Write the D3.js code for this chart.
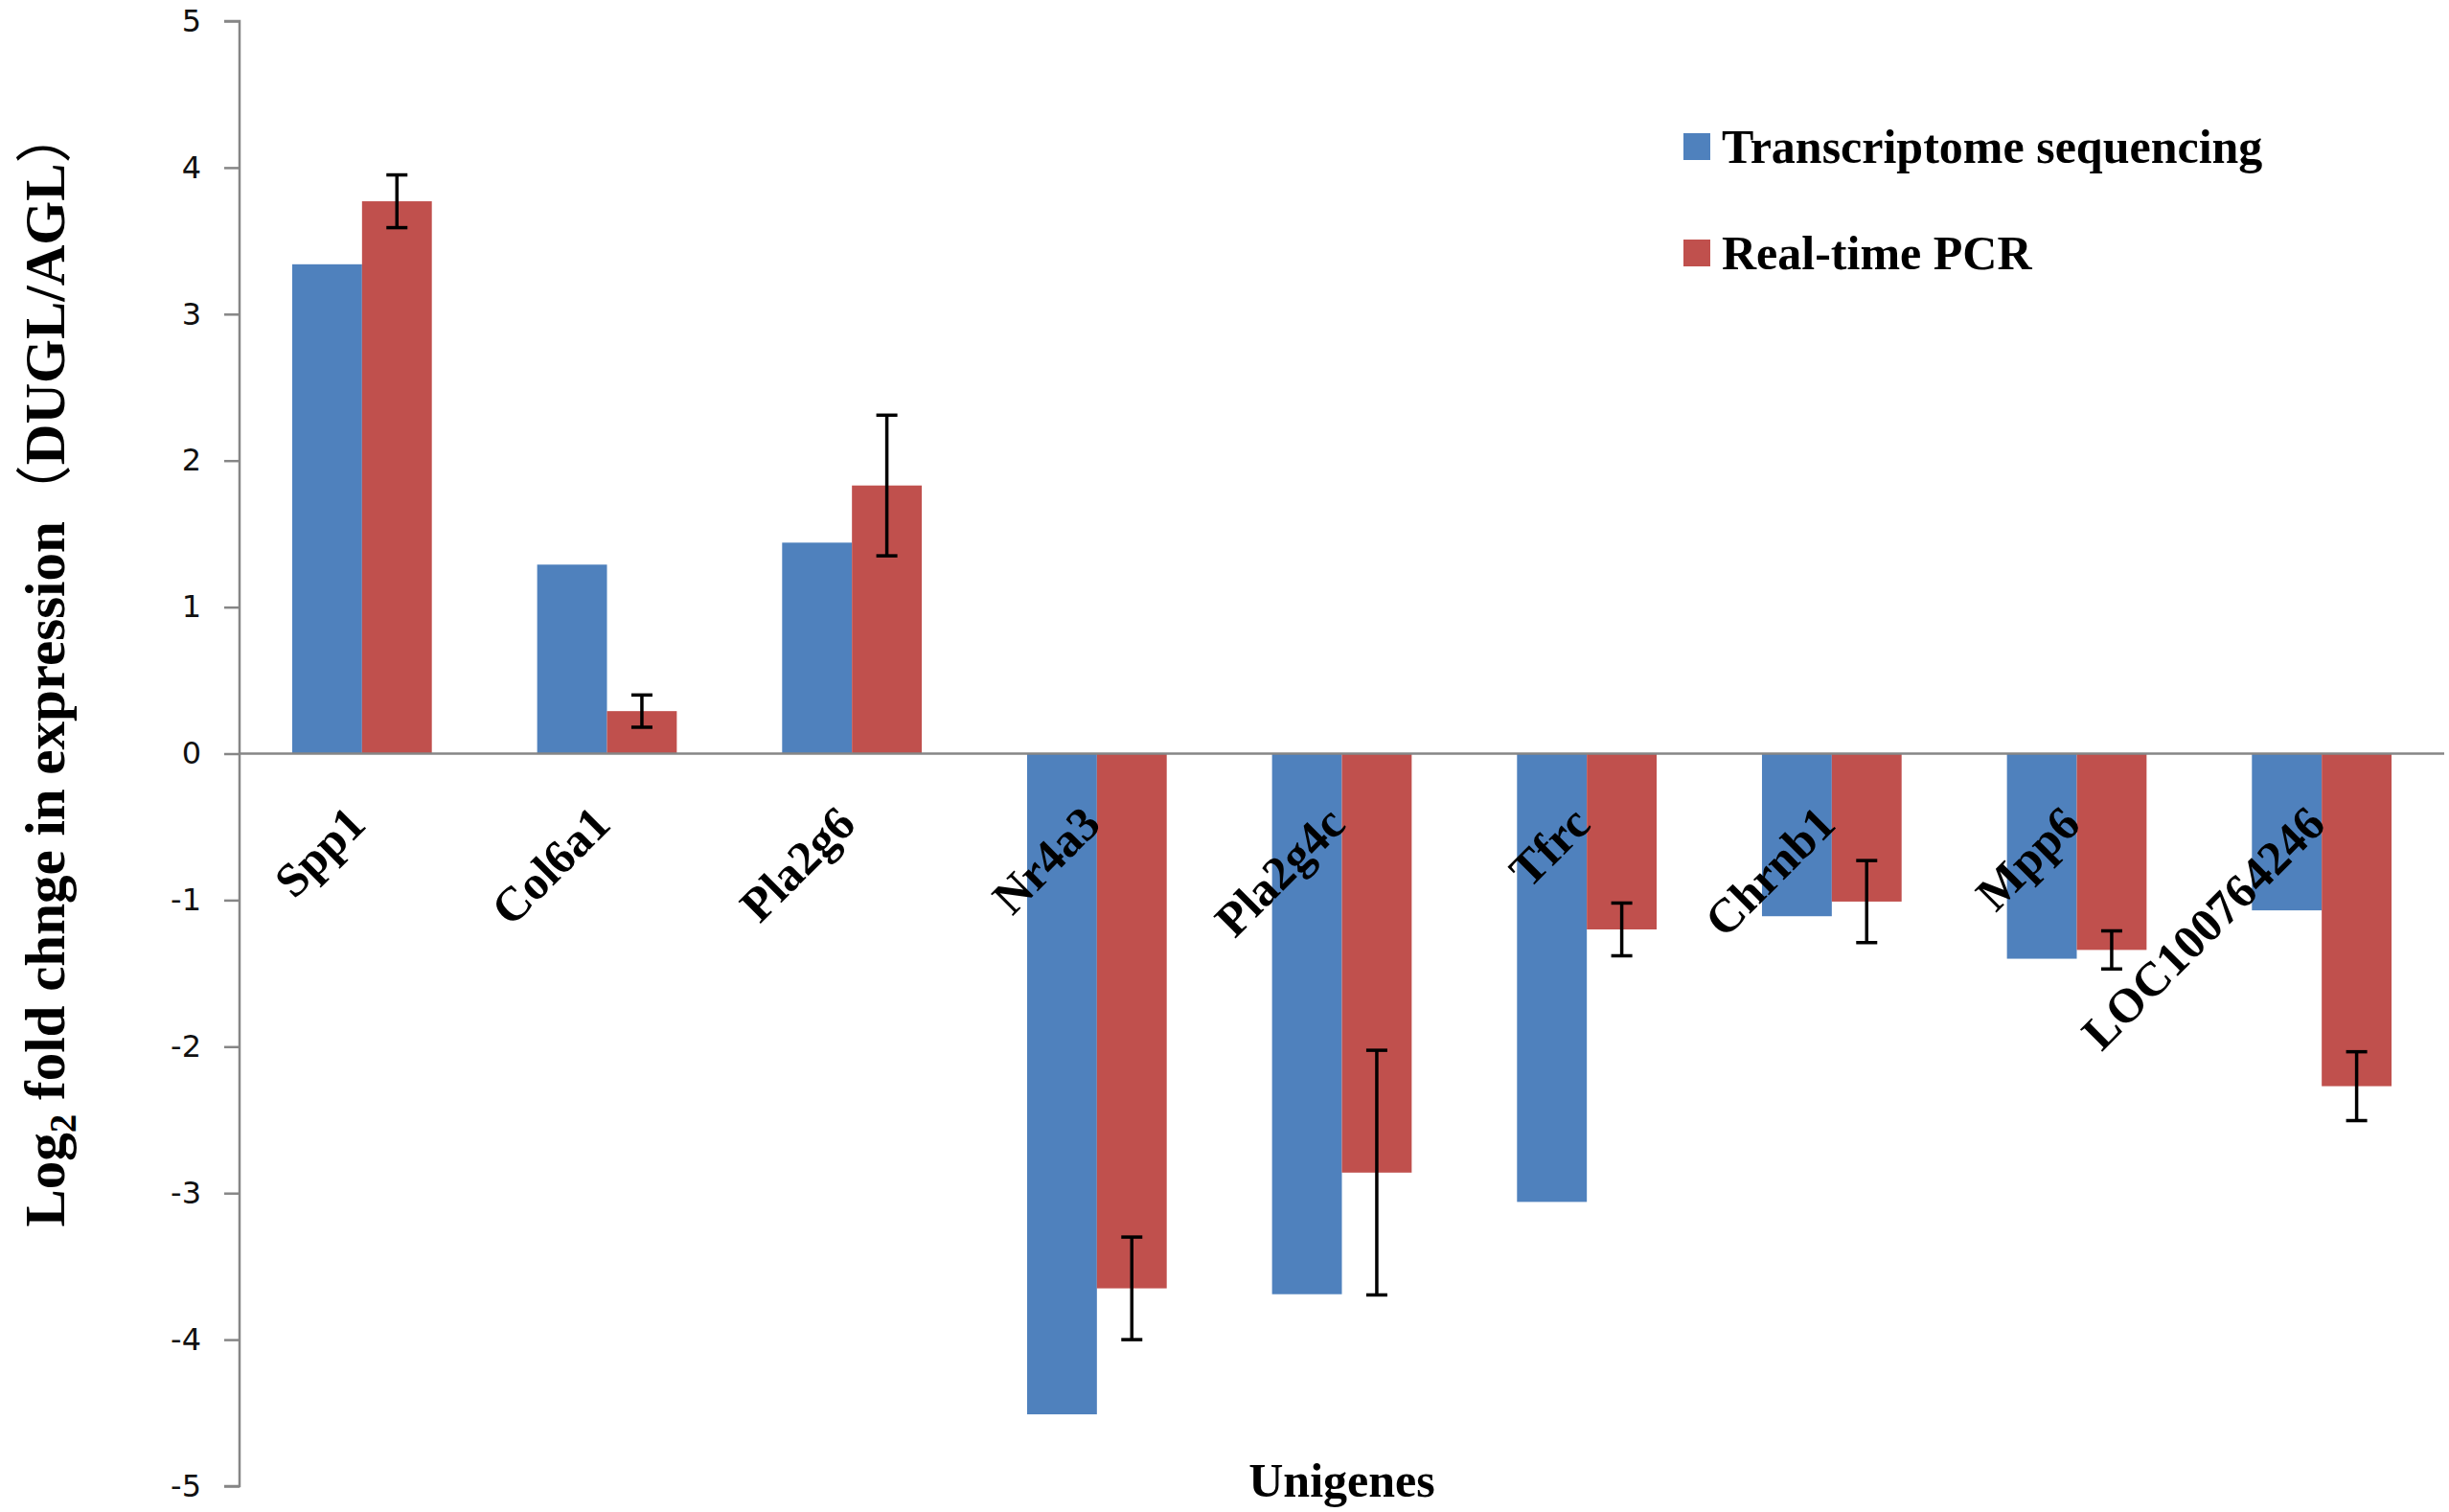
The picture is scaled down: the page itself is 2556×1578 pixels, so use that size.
<!DOCTYPE html>
<html>
<head>
<meta charset="utf-8">
<script src="https://cdn.jsdelivr.net/npm/d3@7"></script>
<style>
  body { margin: 0; background: #fff; }
  svg { display: block; }
</style>
</head>
<body>
<svg id="chart" width="2556" height="1578"></svg>
<script>
// gene names on the x axis
const genes = ["Spp1", "Col6a1", "Pla2g6", "Nr4a3", "Pla2g4c", "Tfrc", "Chrnb1", "Mpp6", "LOC100764246"];
const seriesNames = ["Transcriptome sequencing", "Real-time PCR"];
const seqValues = [3.34, 1.29, 1.44, -4.51, -3.69, -3.06, -1.11, -1.40, -1.07];
const pcrValues = [3.77, 0.29, 1.83, -3.65, -2.86, -1.20, -1.01, -1.34, -2.27];
const pcrErrors = [0.18, 0.11, 0.48, 0.35, 0.835, 0.18, 0.28, 0.13, 0.235];
const yTicks = [-5, -4, -3, -2, -1, 0, 1, 2, 3, 4, 5];
const colors = ["#4F81BD", "#C0504D"];

const svg = d3.select("#chart");
const plotLeft = 250, plotRight = 2551, plotTop = 22, plotBottom = 1551;

const x = d3.scaleBand().domain(genes).range([plotLeft, plotRight])
    .paddingInner(0.43).paddingOuter(0.215);
const xs = d3.scaleBand().domain(seriesNames).range([0, x.bandwidth()]);
const y = d3.scaleLinear().domain([-5, 5]).range([plotBottom, plotTop]);

const rows = genes.map((g, i) => ({
    gene: g,
    vals: [
        { s: seriesNames[0], v: seqValues[i] },
        { s: seriesNames[1], v: pcrValues[i], e: pcrErrors[i] }
    ]
}));

// y axis (plain hyphen for negatives, like the original)
const yAxis = svg.append("g")
    .attr("transform", `translate(${plotLeft},0)`)
    .call(d3.axisLeft(y).tickValues(yTicks).tickSize(16).tickPadding(24).tickFormat(d => String(d)));
yAxis.selectAll("path, line").attr("stroke", "#868686").attr("stroke-width", 2.5);
yAxis.select(".domain").attr("d", `M-16,${y(5)}H0V${y(-5)}H-16`);
yAxis.selectAll("text")
    .attr("font-family", "'DejaVu Sans', Verdana, sans-serif")
    .attr("font-size", 32)
    .attr("fill", "#111");

// bars
const groups = svg.append("g").selectAll("g")
    .data(rows).enter().append("g")
    .attr("transform", d => `translate(${x(d.gene)},0)`);

groups.selectAll("rect")
    .data(d => d.vals).enter().append("rect")
    .attr("x", d => xs(d.s))
    .attr("width", xs.bandwidth())
    .attr("y", d => y(Math.max(0, d.v)))
    .attr("height", d => Math.abs(y(d.v) - y(0)))
    .attr("fill", (d, i) => colors[i]);

// zero line / category axis
const xAxis = svg.append("g")
    .attr("transform", `translate(0,${y(0)})`)
    .call(d3.axisBottom(x).tickSize(0).tickPadding(0));
xAxis.select(".domain").attr("d", `M${plotLeft},0H${plotRight}`)
    .attr("stroke", "#868686").attr("stroke-width", 2.5);
xAxis.selectAll("text")
    .attr("x", 0).attr("y", 0).attr("dy", null)
    .attr("transform", "translate(6,76) rotate(-45)")
    .style("text-anchor", "end")
    .attr("font-family", "'Liberation Serif', 'Times New Roman', serif")
    .attr("font-weight", "bold")
    .attr("font-size", 50)
    .attr("fill", "#000");

// error bars on the PCR series
const errs = groups.selectAll("g.err")
    .data(d => d.vals.filter(v => v.e != null)).enter().append("g")
    .attr("class", "err")
    .attr("stroke", "#000").attr("stroke-width", 3.5);
const ex = d => xs(d.s) + xs.bandwidth() / 2;
errs.append("line")
    .attr("x1", ex).attr("x2", ex)
    .attr("y1", d => y(d.v + d.e)).attr("y2", d => y(d.v - d.e));
errs.append("line")
    .attr("x1", d => ex(d) - 11).attr("x2", d => ex(d) + 11)
    .attr("y1", d => y(d.v + d.e)).attr("y2", d => y(d.v + d.e));
errs.append("line")
    .attr("x1", d => ex(d) - 11).attr("x2", d => ex(d) + 11)
    .attr("y1", d => y(d.v - d.e)).attr("y2", d => y(d.v - d.e));

// legend
const legend = svg.append("g").selectAll("g")
    .data(seriesNames).enter().append("g")
    .attr("transform", (d, i) => `translate(1757,${139 + i * 111})`);
legend.append("rect")
    .attr("width", 28).attr("height", 28)
    .attr("fill", (d, i) => colors[i]);
legend.append("text")
    .attr("x", 40).attr("y", 31)
    .attr("font-family", "'Liberation Serif', 'Times New Roman', serif")
    .attr("font-weight", "bold")
    .attr("font-size", 50)
    .text(d => d);

// axis titles
svg.append("text")
    .attr("x", (plotLeft + plotRight) / 2).attr("y", 1562)
    .attr("text-anchor", "middle")
    .attr("font-family", "'Liberation Serif', 'Times New Roman', serif")
    .attr("font-weight", "bold")
    .attr("font-size", 50)
    .text("Unigenes");

const cjk = "'Noto Sans CJK SC', sans-serif";
const yTitle = svg.append("text")
    .attr("transform", "translate(67,696) rotate(-90)")
    .attr("text-anchor", "middle")
    .attr("font-family", "'Liberation Serif', 'Times New Roman', serif")
    .attr("font-weight", "bold")
    .attr("font-size", 59);
yTitle.append("tspan").text("Log");
yTitle.append("tspan").attr("font-size", 39).attr("dy", 12).text("2");
yTitle.append("tspan").attr("dy", -12).text(" fold chnge in expression");
yTitle.append("tspan").attr("font-family", cjk).attr("font-weight", "normal").text("（");
yTitle.append("tspan").text("DUGL/AGL");
yTitle.append("tspan").attr("font-family", cjk).attr("font-weight", "normal").text("）");
</script>
</body>
</html>
